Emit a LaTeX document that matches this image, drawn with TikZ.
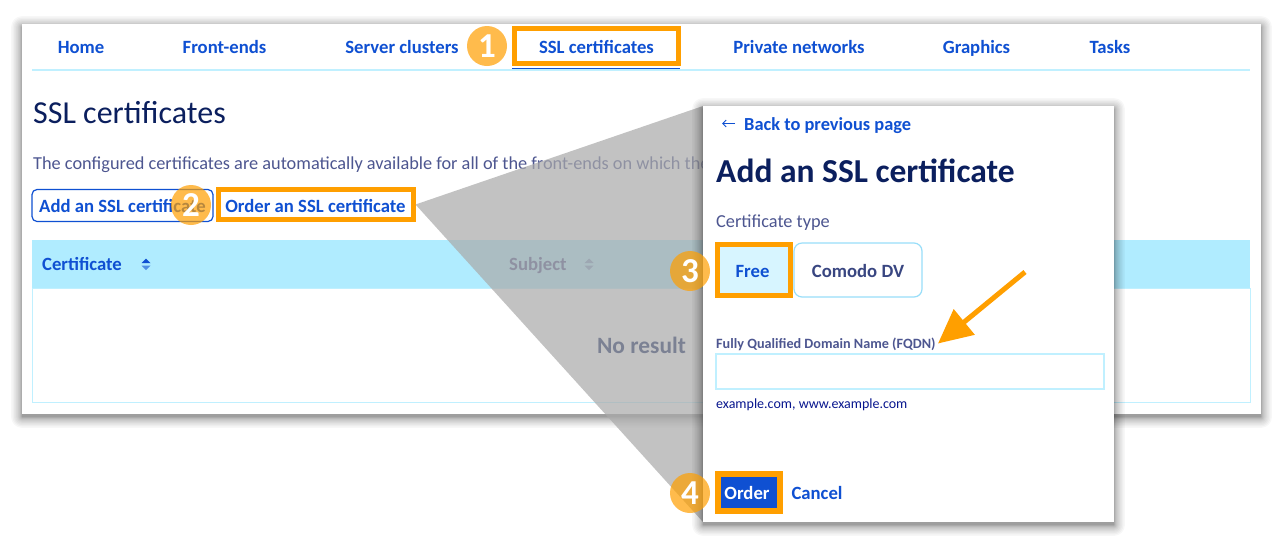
\documentclass[tikz,border=0pt]{standalone}
\usepackage{fontspec}
\setmainfont{Carlito}
\usetikzlibrary{arrows.meta}
\definecolor{linkblue}{HTML}{0F50D2}
\definecolor{navy}{HTML}{0B1F5E}
\definecolor{slate}{HTML}{4D5690}
\definecolor{paleline}{HTML}{C0F0FF}
\definecolor{headcyan}{HTML}{B0ECFF}
\definecolor{hilite}{HTML}{FF9F00}
\definecolor{wedgegray}{HTML}{AAAAAA}
\newcommand{\softshadow}[4]{%
  \foreach \k in {1,...,14}{
    \pgfmathsetmacro{\d}{\k*\k/18}
    \fill[black,opacity=.032,rounded corners=\d pt] (#1-\d,#2-\d+3) rectangle (#3+\d,#4+\d+3);}}
\tikzset{
  lnk/.style={text=linkblue,font=\bfseries\fontsize{18.7}{19}\selectfont,inner sep=0pt,text height=13.5pt,text depth=0pt},
  txt/.style={text=slate,font=\fontsize{18.3}{19}\selectfont,inner sep=0pt,anchor=west,text height=13pt,text depth=0pt},
  smalltxt/.style={text=slate,font=\fontsize{14}{15}\selectfont,inner sep=0pt,anchor=west,text height=10pt,text depth=0pt},
  pick/.style={draw=hilite,line width=5pt,inner sep=0pt,text height=15.5pt},
  badge/.style={circle,fill=hilite,fill opacity=.7,text opacity=1,text=white,minimum size=40pt,inner sep=0pt,
    font=\bfseries\fontsize{35}{35}\selectfont},
  thinbox/.style={draw=paleline,line width=1.2pt,inner sep=0pt}
}
\begin{document}
\begin{tikzpicture}[x=1pt,y=-1pt,>=latex]
\useasboundingbox (0,0) rectangle (1284,542);
\fill[white] (0,0) rectangle (1284,542);
% main page
\softshadow{22}{24}{1261}{414}
\fill[white] (22,24) rectangle (1261,414);
\draw[paleline,line width=1.2pt] (32,70)--(1250,70);
\node[lnk] (home) at (81,46.5){Home};
\node[lnk] (fronts) at (224.5,46.5){Front-ends};
\node[lnk] (clusters) at (402,46.5){Server clusters};
\node[lnk] (priv) at (799,46.5){Private networks};
\node[lnk] (graph) at (976.5,46.5){Graphics};
\node[lnk] (tasks) at (1110,46.5){Tasks};
\draw[linkblue,line width=1.5pt] (512,68.5)--(680,68.5);
\node[lnk,pick,minimum width=164pt,minimum height=35pt] (ssl) at (596.5,46){SSL certificates};
\node[text=navy,font=\fontsize{32}{32}\selectfont,inner sep=0pt,anchor=west] (title) at (33,113){SSL certificates};
\node[txt] (descr) at (33,162.5){The configured certificates are automatically available for all of the front-ends on which the};
\node[lnk,draw=linkblue,line width=1.2pt,rounded corners=5pt,minimum width=181pt,minimum height=32pt] (addbtn) at (122.5,205.5){Add an SSL certificate};
\node[lnk,pick,minimum width=195pt,minimum height=30pt] (ordbtn) at (315.5,204.5){Order an SSL certificate};
\fill[headcyan] (32,240) rectangle (1250,288);
\draw[paleline,line width=1pt] (32,288) rectangle (1250,402);
\node[lnk,anchor=west] (certcol) at (42,263.5){Certificate};
\fill[linkblue] (141.5,263)--(146,258.5)--(150.5,263)--cycle;
\fill[linkblue!60!headcyan] (141.5,265.5)--(146,270)--(150.5,265.5)--cycle;
\node[lnk,text=slate,anchor=west] (subjcol) at (509,263.5){Subject};
\fill[slate!50!headcyan] (584.5,263)--(589,258.5)--(593.5,263)--cycle (584.5,265.5)--(589,270)--(593.5,265.5)--cycle;
\node[text=navy,font=\bfseries\fontsize{23.4}{24}\selectfont,inner sep=0pt] (nores) at (641.5,345){No result};
% zoom wedge
\coordinate (dlgnw) at (703,106);
\coordinate (dlgsw) at (703,522);
\fill[wedgegray,opacity=.71] (ordbtn.east)--(dlgnw)--(dlgsw)--cycle;
% dialog
\softshadow{703}{106}{1114}{522}
\node[fill=white,inner sep=0pt,anchor=north west,minimum width=411pt,minimum height=416pt] (dlg) at (dlgnw){};
\node[lnk,font=\bfseries\fontsize{18.4}{19}\selectfont,anchor=west] (back) at (744,124){Back to previous page};
\coordinate (backa) at (735,123.5);
\coordinate (backb) at (722,123.5);
\draw[linkblue,-{Straight Barb[length=3.5pt,width=7pt]},line width=1pt] (backa)--(backb);
\node[text=navy,font=\bfseries\fontsize{33.5}{34}\selectfont,inner sep=0pt,anchor=west] (dlgtitle) at (716,171){Add an SSL certificate};
\node[txt] (ctype) at (716,220.5){Certificate type};
\node[lnk,pick,fill=headcyan!50,minimum width=73pt,minimum height=51pt] (free) at (754,270){Free\kern3pt};
\node[lnk,text=slate!70!navy,thinbox,draw=cyan!40,rounded corners=8pt,minimum width=128pt,minimum height=54pt,text height=15.5pt] (comodo) at (858,270){Comodo DV};
\node[smalltxt,font=\bfseries\fontsize{14.2}{15}\selectfont] (fqdn) at (716,343){Fully Qualified Domain Name (FQDN)};
\node[thinbox,minimum width=388pt,minimum height=35pt] (fqbox) at (910,371.5){};
\node[smalltxt,text=navy!70!blue] (hint) at (716,403){example.com, www.example.com};
\node[lnk,text=white,fill=linkblue,draw=hilite,line width=6pt,minimum width=62pt,minimum height=37pt] (ordgo) at (749,492.5){Order\kern4pt};
\node[lnk] (cancel) at (817,493){Cancel};
% arrow and numbers
\coordinate (arra) at (1025,272);
\coordinate (arrb) at (938,343.5);
\draw[hilite,line width=5pt,-{Triangle[length=34pt,width=32pt]}] (arra)--(arrb);
\node[badge] (n1) at (487,46){1};
\node[badge] (n2) at (191,205){2};
\node[badge] (n3) at (690,271){3};
\node[badge] (n4) at (690,493){4};
\end{tikzpicture}
\end{document}
